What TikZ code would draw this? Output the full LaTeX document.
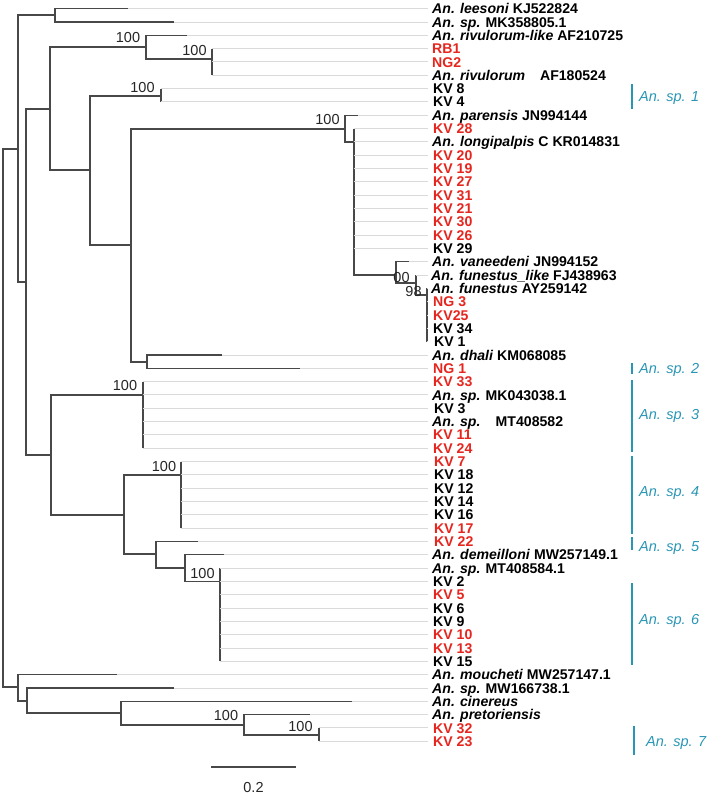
\documentclass[tikz,border=0pt]{standalone}
\usepackage{fontspec}
\setmainfont{Liberation Sans}
\definecolor{treec}{RGB}{72,72,72}
\definecolor{greyc}{RGB}{218,218,218}
\definecolor{redl}{RGB}{230,38,30}
\definecolor{tealc}{RGB}{42,150,182}
\newcommand\spn[1]{\textit{#1}}
\begin{document}
\begin{tikzpicture}[x=1pt,y=-1pt,
  br/.style={draw=treec,line width=1.3pt},
  gl/.style={draw=greyc,line width=1pt},
  lab/.style={anchor=west,inner sep=0pt,text height=10.1pt,text depth=0pt,font=\fontsize{14.1}{14}\selectfont\bfseries,text=black},
  rlab/.style={lab,text=redl},
  bs/.style={inner sep=0pt,font=\fontsize{14.5}{15}\selectfont,text=black!85},
  cl/.style={anchor=west,inner sep=0pt,text height=10.4pt,text depth=0pt,font=\fontsize{14.5}{15}\selectfont\itshape,text=tealc},
  brk/.style={draw=tealc,line width=1.4pt}]
\useasboundingbox (0,0) rectangle (708,794);
\fill[white] (0,0) rectangle (708,794);
% tips
\foreach \i/\x in {1/128,2/174,3/187,4/212,5/212,6/212,7/161,8/161,9/358,
  10/354,11/354,12/354,13/354,14/354,15/354,16/354,17/354,18/354,19/354,
  20/409,21/416,22/427,23/427,24/427,25/427,26/427,27/222,28/300,
  29/143,30/143,31/143,32/143,33/143,34/143,35/181,36/181,37/181,38/181,39/181,40/181,
  41/198,42/224,43/220,44/220,45/220,46/220,47/220,48/220,49/220,50/220,
  51/117,52/174,53/352,54/310,55/319,56/319}
  \coordinate (t\i) at (\x,{8.7+(\i-1)*13.32});
\coordinate (gx) at (428,0);
% internal nodes
\coordinate (R) at (3,418);
\coordinate (A) at (18,149);
\coordinate (B) at (18,687);
\coordinate (C1) at (55,15);
\coordinate (A2) at (26,282);
\coordinate (D) at (50,109);
\coordinate (E) at (51,455);
\coordinate (F) at (146,47);
\coordinate (G) at (90,170);
\coordinate (H) at (212,59);
\coordinate (I) at (161,96);
\coordinate (J) at (131,245);
\coordinate (K) at (345,129);
\coordinate (M) at (147,362);
\coordinate (N) at (354,142);
\coordinate (O) at (396,275);
\coordinate (P) at (416,283);
\coordinate (Q) at (427,295);
\coordinate (S3) at (143,395);
\coordinate (T) at (124,515);
\coordinate (S4) at (181,475);
\coordinate (U) at (156,554);
\coordinate (V) at (185,568);
\coordinate (S6) at (220,581.5);
\coordinate (W) at (27,701);
\coordinate (X) at (121,713);
\coordinate (Y) at (244,725);
\coordinate (Z) at (319,735);
% branches
\draw[br] (R) |- (A) (R) |- (B);
\draw[br] (A) |- (C1) (A) |- (A2);
\draw[br] (C1) |- (t1) (C1) |- (t2);
\draw[br] (A2) |- (D) (A2) |- (E);
\draw[br] (D) |- (F) (D) |- (G);
\draw[br] (F) |- (t3) (F) |- (H);
\draw[br] (t4) -- (t6);
\draw[br] (G) |- (I) (G) |- (J);
\draw[br] (t7) -- (t8);
\draw[br] (J) |- (K) (J) |- (M);
\draw[br] (K) |- (t9) (K) |- (N);
\draw[br] (t10) -- (N |- O) -- (O);
\draw[br] (O) |- (t20) (O) |- (P);
\draw[br] (P) |- (t21) (P) |- (Q);
\draw[br] (t22) -- (t26);
\draw[br] (M) |- (t27) (M) |- (t28);
\draw[br] (E) |- (S3) (E) |- (T);
\draw[br] (t29) -- (t34);
\draw[br] (T) |- (S4) (T) |- (U);
\draw[br] (t35) -- (t40);
\draw[br] (U) |- (t41) (U) |- (V);
\draw[br] (V) |- (t42) (V) |- (S6);
\draw[br] (t43) -- (t50);
\draw[br] (B) |- (t51) (B) |- (W);
\draw[br] (W) |- (t52) (W) |- (X);
\draw[br] (X) |- (t53) (X) |- (Y);
\draw[br] (Y) |- (t54) (Y) |- (Z);
\draw[br] (t55) -- (t56);
% grey guide lines
\foreach \i in {1,...,56} \draw[gl] (t\i) -- (t\i -| gx);
% bootstrap values
\node[bs] (b1) at (128,37.5) {100};
\node[bs] (b2) at (194.5,50.5) {100};
\node[bs] (b3) at (142.5,87.5) {100};
\node[bs] (b4) at (327.5,120) {100};
\node[bs] (b5) at (401.5,278) {00};
\node[bs] (b6) at (413.5,291.5) {98};
\node[bs] (b7) at (125,385.5) {100};
\node[bs] (b8) at (164,467) {100};
\node[bs] (b9) at (202.5,574) {100};
\node[bs] (b10) at (226,716) {100};
\node[bs] (b11) at (300.5,726) {100};
% leaf labels
\node[lab] (n1) at (t1 -| 432,0) {\spn{An. leesoni} KJ522824};
\node[lab] (n2) at (t2 -| 432,0) {\spn{An. sp.} MK358805.1};
\node[lab] (n3) at (t3 -| 432,0) {\spn{An. rivulorum-like} AF210725};
\node[rlab] (n4) at (t4 -| 432,0) {RB1};
\node[rlab] (n5) at (t5 -| 432,0) {NG2};
\node[lab] (n6) at (t6 -| 432,0) {\spn{An. rivulorum}\hspace{11pt} AF180524};
\node[lab] (n7) at (t7 -| 433,0) {KV 8};
\node[lab] (n8) at (t8 -| 433,0) {KV 4};
\node[lab] (n9) at (t9 -| 432,0) {\spn{An. parensis} JN994144};
\node[rlab] (n10) at (t10 -| 433,0) {KV 28};
\node[lab] (n11) at (t11 -| 432,0) {\spn{An. longipalpis} C KR014831};
\node[rlab] (n12) at (t12 -| 433,0) {KV 20};
\node[rlab] (n13) at (t13 -| 433,0) {KV 19};
\node[rlab] (n14) at (t14 -| 433,0) {KV 27};
\node[rlab] (n15) at (t15 -| 433,0) {KV 31};
\node[rlab] (n16) at (t16 -| 433,0) {KV 21};
\node[rlab] (n17) at (t17 -| 433,0) {KV 30};
\node[rlab] (n18) at (t18 -| 433,0) {KV 26};
\node[lab] (n19) at (t19 -| 433,0) {KV 29};
\node[lab] (n20) at (t20 -| 432,0) {\spn{An. vaneedeni} JN994152};
\node[lab] (n21) at (t21 -| 431,0) {\spn{An. funestus\_like} FJ438963};
\node[lab] (n22) at (t22 -| 431,0) {\spn{An. funestus} AY259142};
\node[rlab] (n23) at (t23 -| 433,0) {NG 3};
\node[rlab] (n24) at (t24 -| 433,0) {KV25};
\node[lab] (n25) at (t25 -| 433,0) {KV 34};
\node[lab] (n26) at (t26 -| 434,0) {KV 1};
\node[lab] (n27) at (t27 -| 432,0) {\spn{An. dhali} KM068085};
\node[rlab] (n28) at (t28 -| 433,0) {NG 1};
\node[rlab] (n29) at (t29 -| 433,0) {KV 33};
\node[lab] (n30) at (t30 -| 432,0) {\spn{An. sp.} MK043038.1};
\node[lab] (n31) at (t31 -| 434,0) {KV 3};
\node[lab] (n32) at (t32 -| 432,0) {\spn{An. sp.}\hspace{10pt} MT408582};
\node[rlab] (n33) at (t33 -| 433,0) {KV 11};
\node[rlab] (n34) at (t34 -| 433,0) {KV 24};
\node[rlab] (n35) at (t35 -| 434,0) {KV 7};
\node[lab] (n36) at (t36 -| 434,0) {KV 18};
\node[lab] (n37) at (t37 -| 434,0) {KV 12};
\node[lab] (n38) at (t38 -| 434,0) {KV 14};
\node[lab] (n39) at (t39 -| 434,0) {KV 16};
\node[rlab] (n40) at (t40 -| 434,0) {KV 17};
\node[rlab] (n41) at (t41 -| 434,0) {KV 22};
\node[lab] (n42) at (t42 -| 432,0) {\spn{An. demeilloni} MW257149.1};
\node[lab] (n43) at (t43 -| 432,0) {\spn{An. sp.} MT408584.1};
\node[lab] (n44) at (t44 -| 433,0) {KV 2};
\node[rlab] (n45) at (t45 -| 433,0) {KV 5};
\node[lab] (n46) at (t46 -| 433,0) {KV 6};
\node[lab] (n47) at (t47 -| 433,0) {KV 9};
\node[rlab] (n48) at (t48 -| 433,0) {KV 10};
\node[rlab] (n49) at (t49 -| 433,0) {KV 13};
\node[lab] (n50) at (t50 -| 433,0) {KV 15};
\node[lab] (n51) at (t51 -| 432,0) {\spn{An. moucheti} MW257147.1};
\node[lab] (n52) at (t52 -| 432,0) {\spn{An. sp.} MW166738.1};
\node[lab] (n53) at (t53 -| 432,0) {\spn{An. cinereus}};
\node[lab] (n54) at (t54 -| 432,0) {\spn{An. pretoriensis}};
\node[rlab] (n55) at (t55 -| 433,0) {KV 32};
\node[rlab] (n56) at (t56 -| 433,0) {KV 23};
% species brackets
\coordinate (k1a) at (632,84);  \coordinate (k1b) at (632,109);
\coordinate (k2a) at (632,363); \coordinate (k2b) at (632,374);
\coordinate (k3a) at (632,380); \coordinate (k3b) at (632,452);
\coordinate (k4a) at (632,456); \coordinate (k4b) at (632,534);
\coordinate (k5a) at (632,537); \coordinate (k5b) at (632,550);
\coordinate (k6a) at (632,583); \coordinate (k6b) at (632,665);
\coordinate (k7a) at (634,726); \coordinate (k7b) at (634,755);
\draw[brk] (k1a) -- (k1b);
\draw[brk] (k2a) -- (k2b);
\draw[brk] (k3a) -- (k3b);
\draw[brk] (k4a) -- (k4b);
\draw[brk] (k5a) -- (k5b);
\draw[brk] (k6a) -- (k6b);
\draw[brk] (k7a) -- (k7b);
\node[cl] (c1) at (639,96) {An. sp. 1};
\node[cl] (c2) at (639,368) {An. sp. 2};
\node[cl] (c3) at (639,414) {An. sp. 3};
\node[cl] (c4) at (639,491) {An. sp. 4};
\node[cl] (c5) at (639,546) {An. sp. 5};
\node[cl] (c6) at (639,619) {An. sp. 6};
\node[cl] (c7) at (646,741) {An. sp. 7};
% scale bar
\coordinate (sb1) at (211,767);
\coordinate (sb2) at (296,767);
\draw[br] (sb1) -- (sb2);
\node[bs] (sbl) at (253.5,787) {0.2};
\end{tikzpicture}
\end{document}
